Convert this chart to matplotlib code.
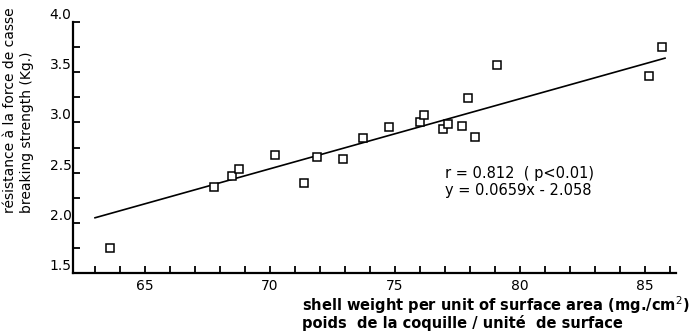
import numpy as np
import matplotlib
matplotlib.use("Agg")
import matplotlib.pyplot as plt
from matplotlib.ticker import MultipleLocator

# shell weight per unit area (mg/cm2) vs breaking strength (kg)
shell_weight = [63.6, 67.76, 68.47, 68.77, 70.21, 71.37, 71.89, 72.9, 73.73, 74.77,
                76.0, 76.17, 76.93, 77.13, 77.68, 77.93, 78.21, 79.09, 85.17, 85.67]
strength = [1.75, 2.36, 2.47, 2.54, 2.68, 2.40, 2.66, 2.64, 2.84, 2.95,
            3.00, 3.07, 2.93, 2.98, 2.96, 3.24, 2.85, 3.57, 3.46, 3.75]

# regression line as drawn in the figure (end points)
fit_x = [63.0, 85.8]
fit_y = [2.05, 3.64]

stats_text = "r = 0.812  ( p<0.01)\ny = 0.0659x - 2.058"
xlabel_lines = "shell weight per unit of surface area (mg./cm$^{2}$)\npoids  de la coquille / unité  de surface"
ylabel_outer = "résistance à la force de casse"
ylabel_inner = "breaking strength (Kg.)"

plt.rcParams['font.family'] = ['DejaVu Sans']

fig = plt.figure(figsize=(6.96, 3.33), dpi=100)
ax = fig.add_axes([73/696, 1 - 273/333, (676 - 73)/696, (273 - 22)/333])

ax.plot(fit_x, fit_y, color='black', lw=1.2, zorder=2)
ax.plot(shell_weight, strength, 's', ms=5.5, mfc='white', mec='black', mew=1.1,
        zorder=3, linestyle='none')

ax.set_xlim(62.12, 86.24)
ax.set_ylim(1.5, 4.0)

ax.spines['top'].set_visible(False)
ax.spines['right'].set_visible(False)
ax.spines['left'].set_linewidth(1.6)
ax.spines['bottom'].set_linewidth(1.6)

ax.xaxis.set_major_locator(MultipleLocator(5))
ax.xaxis.set_minor_locator(MultipleLocator(1))
ax.yaxis.set_major_locator(MultipleLocator(0.5))
ax.yaxis.set_minor_locator(MultipleLocator(0.25))
ax.yaxis.set_major_formatter(matplotlib.ticker.FormatStrFormatter('%.1f'))

ax.tick_params(which='both', direction='in', length=5, width=1.3, color='black')
ax.tick_params(axis='x', which='major', labelsize=10, pad=4)
ax.tick_params(axis='y', which='major', labelsize=10, pad=1)
for lab in ax.get_yticklabels():
    lab.set_verticalalignment('bottom')

fig.text(445/696, 1 - 182/333, stats_text, fontsize=10.5,
         ha='left', va='center', linespacing=1.2)

fig.text(302/696, 1 - 313/333, xlabel_lines, fontsize=10.5, fontweight='bold',
         ha='left', va='center', linespacing=0.9)

fig.text(10/696, 1 - 213/333, ylabel_outer, rotation=90, fontsize=10,
         ha='center', va='bottom')
fig.text(27/696, 1 - 213/333, ylabel_inner, rotation=90, fontsize=10,
         ha='center', va='bottom')

fig.savefig('out.png', dpi=100)
